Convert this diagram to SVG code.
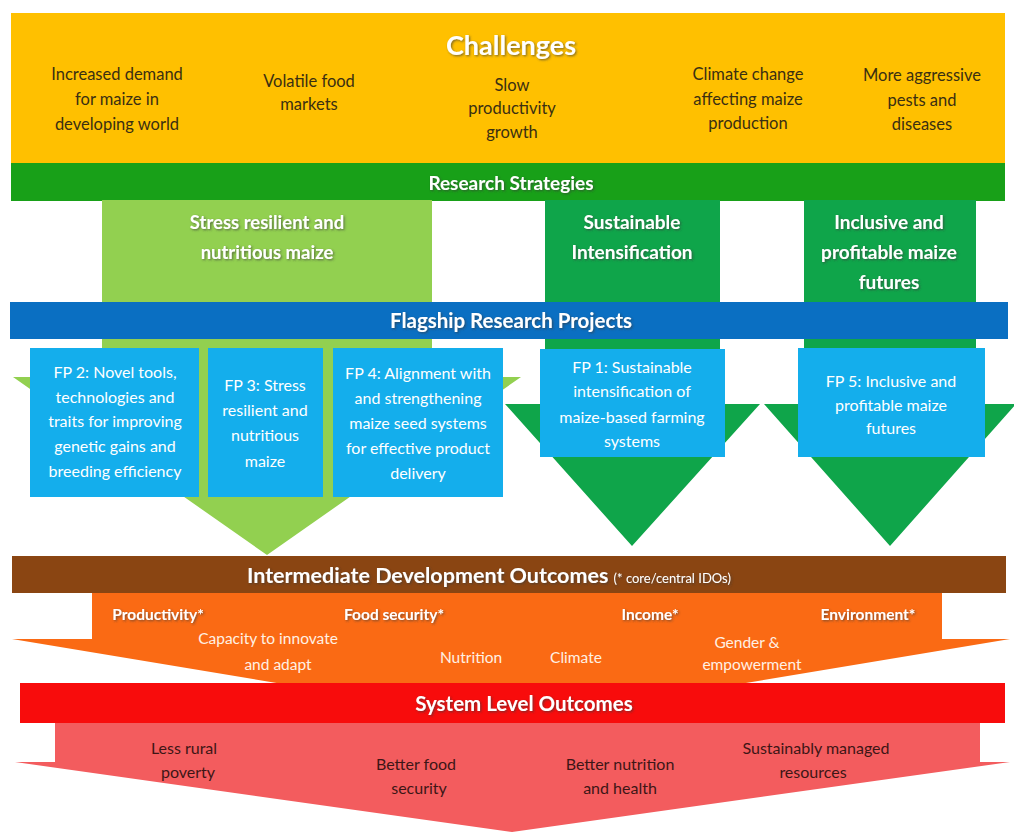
<svg xmlns="http://www.w3.org/2000/svg" width="1014" height="833" viewBox="0 0 1014 833">
  <defs>
    <filter id="shadow" x="-10%" y="-30%" width="120%" height="160%">
      <feDropShadow dx="1.2" dy="1.2" stdDeviation="0.8" flood-color="#3a3a3a" flood-opacity="0.65"/>
    </filter>
    <style>
      text { font-family: Lato, "Open Sans", "Liberation Sans", sans-serif; text-anchor: middle; }
      .head { fill: #ffffff; font-weight: 700; filter: url(#shadow); }
      .chal { fill: #3a2f12; font-size: 16.5px; }
      .fp { fill: #ffffff; font-size: 16px; }
      .ido { fill: #ffffff; font-size: 15.5px; font-weight: 700; filter: url(#shadow); }
      .ido-sub { fill: #fff1e4; font-size: 15.5px; }
      .slo { fill: #3d1616; font-size: 16px; }
    </style>
  </defs>

  <rect width="1014" height="833" fill="#ffffff"/>

  <!-- Challenges band -->
  <g id="challenges">
    <rect x="11" y="13" width="994" height="150" fill="#FFC000"/>
    <text class="head" x="511" y="55" font-size="27">Challenges</text>
    <text class="chal" x="117" y="80">Increased demand</text>
    <text class="chal" x="117" y="105">for maize in</text>
    <text class="chal" x="117" y="130">developing world</text>
    <text class="chal" x="309" y="87">Volatile food</text>
    <text class="chal" x="309" y="110">markets</text>
    <text class="chal" x="512" y="91">Slow</text>
    <text class="chal" x="512" y="114">productivity</text>
    <text class="chal" x="512" y="138">growth</text>
    <text class="chal" x="748" y="80">Climate change</text>
    <text class="chal" x="748" y="105">affecting maize</text>
    <text class="chal" x="748" y="129">production</text>
    <text class="chal" x="922" y="81">More aggressive</text>
    <text class="chal" x="922" y="106">pests and</text>
    <text class="chal" x="922" y="130">diseases</text>
  </g>

  <!-- Research Strategies band -->
  <g id="research-strategies">
    <rect x="11" y="163" width="994" height="38" fill="#18A018"/>
    <text class="head" x="511" y="190" font-size="19">Research Strategies</text>
  </g>

  <!-- Strategy arrows flowing down through the flagship projects -->
  <g id="flows">
    <polygon id="flow-stress" points="102,200 432,200 432,377 521,377 267,555 13,377 102,377" fill="#92D050"/>
    <polygon id="flow-si" points="545,200 720,200 720,404 760,404 632,546 505,404 545,404" fill="#0FA54A"/>
    <polygon id="flow-inclusive" points="804,200 976,200 976,404 1016,404 890,546 764,404 804,404" fill="#0FA54A"/>
  </g>

  <g id="strategy-stress">
    <text class="head" x="267" y="229" font-size="18.5">Stress resilient and</text>
    <text class="head" x="267" y="259" font-size="18.5">nutritious maize</text>
  </g>
  <g id="strategy-si">
    <text class="head" x="632" y="229" font-size="19">Sustainable</text>
    <text class="head" x="632" y="259" font-size="19">Intensification</text>
  </g>
  <g id="strategy-inclusive">
    <text class="head" x="889" y="229" font-size="19">Inclusive and</text>
    <text class="head" x="889" y="259" font-size="19">profitable maize</text>
    <text class="head" x="889" y="289" font-size="19">futures</text>
  </g>

  <!-- Flagship band -->
  <g id="flagship">
    <rect x="10" y="302" width="998" height="37" fill="#0A6FC2"/>
    <text class="head" x="511" y="328" font-size="20.5">Flagship Research Projects</text>
  </g>

  <!-- Flagship projects -->
  <g id="fp2">
    <rect x="30" y="348" width="169" height="149" fill="#14AEEC"/>
    <text class="fp" x="115" y="378">FP 2: Novel tools,</text>
    <text class="fp" x="115" y="403">technologies and</text>
    <text class="fp" x="115" y="427">traits for improving</text>
    <text class="fp" x="115" y="452">genetic gains and</text>
    <text class="fp" x="115" y="477">breeding efficiency</text>
  </g>
  <g id="fp3">
    <rect x="208" y="348" width="115" height="149" fill="#14AEEC"/>
    <text class="fp" x="265" y="391">FP 3: Stress</text>
    <text class="fp" x="265" y="416">resilient and</text>
    <text class="fp" x="265" y="441">nutritious</text>
    <text class="fp" x="265" y="467">maize</text>
  </g>
  <g id="fp4">
    <rect x="333" y="348" width="170" height="149" fill="#14AEEC"/>
    <text class="fp" x="418" y="379">FP 4: Alignment with</text>
    <text class="fp" x="418" y="404">and strengthening</text>
    <text class="fp" x="418" y="429">maize seed systems</text>
    <text class="fp" x="418" y="454">for effective product</text>
    <text class="fp" x="418" y="479">delivery</text>
  </g>
  <g id="fp1">
    <rect x="540" y="349" width="185" height="108" fill="#14AEEC"/>
    <text class="fp" x="632" y="373">FP 1: Sustainable</text>
    <text class="fp" x="632" y="397">intensification of</text>
    <text class="fp" x="632" y="423">maize-based farming</text>
    <text class="fp" x="632" y="447">systems</text>
  </g>
  <g id="fp5">
    <rect x="798" y="348" width="187" height="109" fill="#14AEEC"/>
    <text class="fp" x="891" y="387">FP 5: Inclusive and</text>
    <text class="fp" x="891" y="411">profitable maize</text>
    <text class="fp" x="891" y="434">futures</text>
  </g>

  <!-- Intermediate Development Outcomes -->
  <g id="ido">
    <polygon points="92,593 942,593 942,639 1010,639 511,722 12,639 92,639" fill="#FA6A14"/>
    <rect x="12" y="556" width="994" height="37" fill="#8A4512"/>
    <text class="head" x="247" y="583" font-size="21.5" style="text-anchor:start">Intermediate Development Outcomes <tspan font-size="13" font-weight="400">(* core/central IDOs)</tspan></text>
    <text class="ido" x="158" y="620">Productivity*</text>
    <text class="ido" x="394" y="620">Food security*</text>
    <text class="ido" x="650" y="620">Income*</text>
    <text class="ido" x="868" y="620">Environment*</text>
    <text class="ido-sub" x="268" y="644">Capacity to innovate</text>
    <text class="ido-sub" x="278" y="670">and adapt</text>
    <text class="ido-sub" x="471" y="663">Nutrition</text>
    <text class="ido-sub" x="576" y="663">Climate</text>
    <text class="ido-sub" x="747" y="648">Gender &amp;</text>
    <text class="ido-sub" x="752" y="670">empowerment</text>
  </g>

  <!-- System Level Outcomes -->
  <g id="slo">
    <polygon points="55,722 980,722 980,762 1010,762 512,832 15,762 55,762" fill="#F35C5E"/>
    <rect x="20" y="683" width="985" height="40" fill="#F80C0C"/>
    <text class="head" x="524" y="711" font-size="20.5">System Level Outcomes</text>
    <text class="slo" x="184" y="754">Less rural</text>
    <text class="slo" x="188" y="778">poverty</text>
    <text class="slo" x="416" y="770">Better food</text>
    <text class="slo" x="419" y="794">security</text>
    <text class="slo" x="620" y="770">Better nutrition</text>
    <text class="slo" x="620" y="794">and health</text>
    <text class="slo" x="816" y="754">Sustainably managed</text>
    <text class="slo" x="813" y="778">resources</text>
  </g>
</svg>
